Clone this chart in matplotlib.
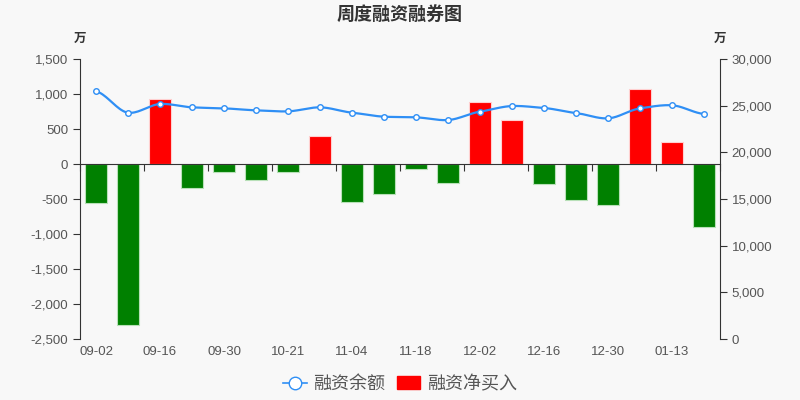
import numpy as np
import matplotlib
matplotlib.use("Agg")
import matplotlib.pyplot as plt
from matplotlib.lines import Line2D
from matplotlib.patches import Patch
from matplotlib.ticker import FuncFormatter, FixedLocator

plt.rcParams['font.family'] = ['Liberation Sans', 'Noto Sans CJK SC', 'DejaVu Sans']

dates = ['09-02', '09-09', '09-16', '09-23', '09-30', '10-14', '10-21', '10-28',
         '11-04', '11-11', '11-18', '11-25', '12-02', '12-09', '12-16', '12-23',
         '12-30', '01-06', '01-13', '01-20']
# 融资净买入 (万)
net_buy = [-550, -2300, 930, -340, -110, -225, -115, 400, -540, -435,
           -75, -270, 885, 625, -290, -510, -580, 1070, 315, -900]
# 融资余额 (万)
balance = [26540, 24250, 25180, 24820, 24710, 24500, 24390, 24820, 24250, 23820,
           23750, 23460, 24360, 24960, 24750, 24210, 23640, 24710, 25040, 24110]

bg = '#f8f8f8'
txt = '#555555'
axc = '#333333'
blue = '#2f8ff5'
cjk = ['Noto Sans CJK SC', 'DejaVu Sans']

fig = plt.figure(figsize=(8, 4), dpi=100, facecolor=bg)
ax = fig.add_axes([0.1, 0.1525, 0.8, 0.70])
ax.set_facecolor(bg)
x = np.arange(len(dates))

colors = ['#ff0000' if v >= 0 else '#008000' for v in net_buy]
edges = ['#ffd0d0' if v >= 0 else '#b8e0b8' for v in net_buy]
ax.bar(x, net_buy, width=0.7, color=colors, edgecolor=edges, linewidth=0.8, zorder=2)
ax.set_xlim(-0.5, len(dates) - 0.5)
ax.set_ylim(-2500, 1500)
ax.set_yticks(np.arange(-2500, 1501, 500))
ax.yaxis.set_major_formatter(FuncFormatter(lambda v, p: f"{v:,.0f}"))

for s in ['top', 'right']:
    ax.spines[s].set_visible(False)
ax.spines['left'].set_color(axc)
ax.spines['bottom'].set_position(('data', 0))
ax.spines['bottom'].set_color(axc)
ax.xaxis.set_major_locator(FixedLocator(np.arange(-0.5, len(dates), 2)))
ax.tick_params(axis='x', direction='out', length=5, color=axc, labelbottom=False)
ax.tick_params(axis='y', direction='out', length=5, color=axc, labelcolor=txt, labelsize=9.5)
for i in range(0, len(dates), 2):
    ax.text(i, -0.045, dates[i], transform=ax.get_xaxis_transform(), ha='center',
            va='center', color=txt, fontsize=9.5)

# smooth line for 融资余额
ax2 = ax.twinx()
ax2.set_ylim(0, 30000)
ax2.set_yticks(np.arange(0, 30001, 5000))
ax2.yaxis.set_major_formatter(FuncFormatter(lambda v, p: f"{v:,.0f}"))
for s in ['top', 'left', 'bottom']:
    ax2.spines[s].set_visible(False)
ax2.spines['right'].set_color(axc)
ax2.tick_params(axis='y', direction='out', length=5, color=axc, labelcolor=txt, labelsize=9.5)

b = np.array(balance, dtype=float)
p = np.concatenate([[b[0]], b, [b[-1]]])
xs, ys = [], []
for i in range(len(b) - 1):
    t = np.linspace(0, 1, 20)
    p0, p1, p2, p3 = p[i], p[i + 1], p[i + 2], p[i + 3]
    m1 = (p2 - p0) / 2 * 0.7
    m2 = (p3 - p1) / 2 * 0.7
    h00 = 2 * t**3 - 3 * t**2 + 1
    h10 = t**3 - 2 * t**2 + t
    h01 = -2 * t**3 + 3 * t**2
    h11 = t**3 - t**2
    xs.extend(i + t)
    ys.extend(h00 * p1 + h10 * m1 + h01 * p2 + h11 * m2)
ax2.plot(xs, ys, color=blue, lw=1.6, zorder=3)
ax2.plot(x, balance, 'o', color=blue, mfc='white', mec=blue, ms=4, mew=1, zorder=4)

fig.text(0.5, 0.965, '周度融资融券图', ha='center', va='center', fontsize=13,
         fontweight='bold', color=axc, family=cjk)
fig.text(0.1, 0.905, '万', ha='center', va='center', fontsize=9, fontweight='bold',
         color=axc, family=cjk)
fig.text(0.9, 0.905, '万', ha='center', va='center', fontsize=9, fontweight='bold',
         color=axc, family=cjk)

handles = [Line2D([0], [0], color=blue, lw=1.2, marker='o', ms=9, mfc='white', mec=blue),
           Patch(facecolor='#ff0000', edgecolor='#ff0000')]
fig.legend(handles, ['融资余额', '融资净买入'], loc='center', bbox_to_anchor=(0.5, 0.04),
           ncol=2, frameon=False, prop={'family': cjk, 'size': 13}, labelcolor=txt,
           handlelength=1.3, handleheight=0.75, handletextpad=0.35, columnspacing=0.65)

fig.savefig('out.png', dpi=100, facecolor=bg)
